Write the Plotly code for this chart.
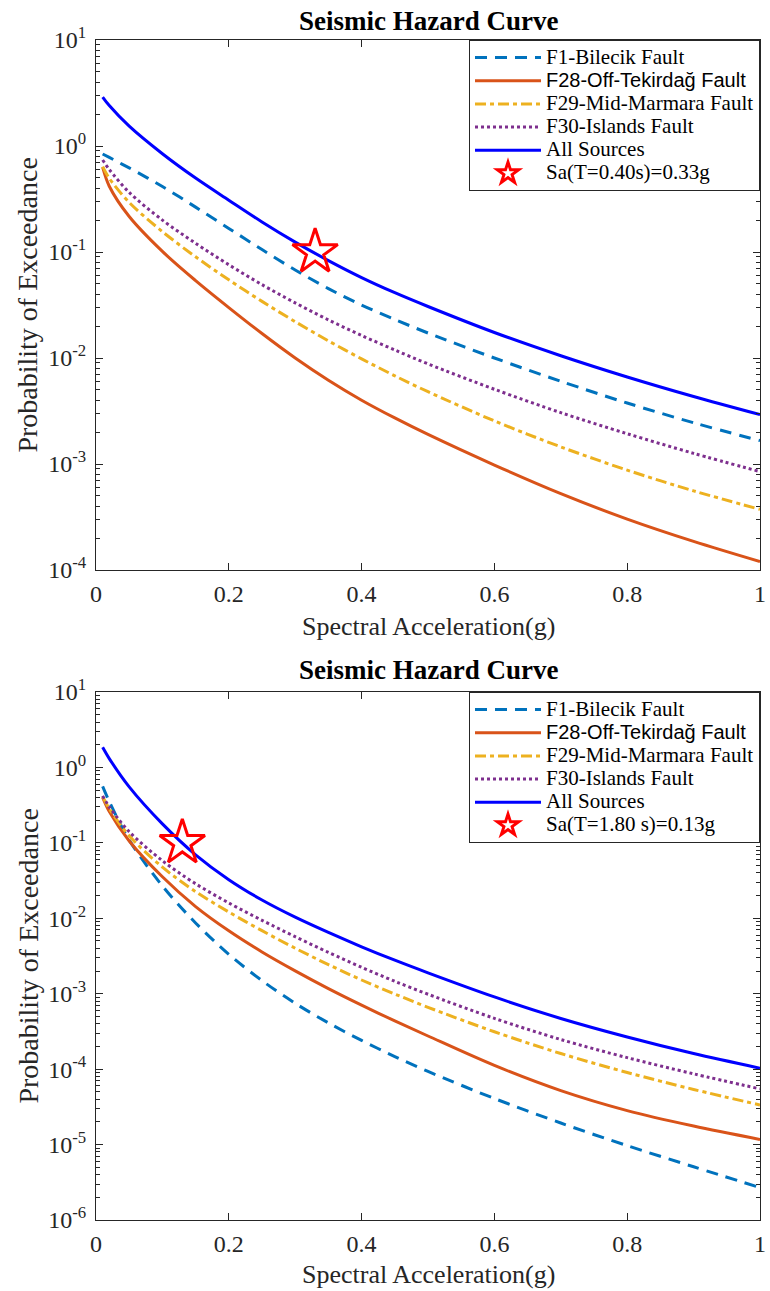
import plotly.graph_objects as go

# ---------------- data ----------------
sa = [0.01, 0.02, 0.05, 0.1, 0.15, 0.2, 0.25, 0.3, 0.35, 0.4, 0.45, 0.5, 0.6, 0.7, 0.8, 0.9, 1.0]

# Top panel: T = 0.40 s
f1_top = [0.841, 0.78, 0.621, 0.415, 0.265, 0.167, 0.1054, 0.0676, 0.0452, 0.0316, 0.0231, 0.0172, 0.0100, 0.00603, 0.00376, 0.00245, 0.00166]
f28_top = [0.631, 0.417, 0.216, 0.1012, 0.0537, 0.0299, 0.0170, 0.0100, 0.00617, 0.0040, 0.00272, 0.0019, 0.000977, 0.000525, 0.000302, 0.000186, 0.00012]
f29_top = [0.638, 0.495, 0.293, 0.1556, 0.0901, 0.0546, 0.0342, 0.0220, 0.0145, 0.00982, 0.00679, 0.00481, 0.00255, 0.00145, 0.000875, 0.000558, 0.000373]
f30_top = [0.738, 0.60, 0.365, 0.200, 0.1208, 0.0758, 0.0492, 0.0331, 0.0229, 0.0163, 0.0119, 0.0088, 0.00507, 0.00305, 0.00193, 0.00126, 0.000847]
all_top = [2.897, 2.41, 1.538, 0.845, 0.498, 0.308, 0.192, 0.124, 0.083, 0.0574, 0.0413, 0.0306, 0.0174, 0.0105, 0.00662, 0.00433, 0.00292]
star_top = (0.33, 0.1)

# Bottom panel: T = 1.80 s
f1_bot = [0.56, 0.353, 0.109, 0.0268, 0.00867, 0.00333, 0.00149, 0.000746, 0.00041, 0.00024, 0.000147, 0.0000934, 0.0000408, 0.0000193, 0.00000967, 0.00000508, 0.00000269]
f28_bot = [0.40, 0.26, 0.106, 0.0355, 0.01428, 0.00682, 0.00358, 0.00201, 0.00117, 0.000706, 0.000436, 0.000275, 0.000112, 0.0000519, 0.0000282, 0.0000176, 0.0000117]
f29_bot = [0.41, 0.284, 0.124, 0.0476, 0.02254, 0.0121, 0.00685, 0.00401, 0.00243, 0.00152, 0.00099, 0.000661, 0.000313, 0.000161, 0.0000903, 0.0000538, 0.0000335]
f30_bot = [0.42, 0.30, 0.1406, 0.0579, 0.0287, 0.01596, 0.0094, 0.0057, 0.00353, 0.00224, 0.00146, 0.000984, 0.000471, 0.000247, 0.000142, 0.0000867, 0.0000547]
all_bot = [1.85, 1.31, 0.552, 0.1786, 0.0695, 0.0325, 0.01746, 0.01034, 0.00649, 0.00419, 0.00278, 0.00189, 0.000906, 0.00047, 0.000267, 0.000161, 0.000103]
star_bot = (0.13, 0.1)

names = ["F1-Bilecik Fault", "F28-Off-Tekirdağ Fault", "F29-Mid-Marmara Fault", "F30-Islands Fault", "All Sources"]
star_labels = ["Sa(T=0.40s)=0.33g", "Sa(T=1.80 s)=0.13g"]
x_ticks = [0, 0.2, 0.4, 0.6, 0.8, 1]
x_ticktext = ["0", "0.2", "0.4", "0.6", "0.8", "1"]
title_text = "Seismic Hazard Curve"
xlabel = "Spectral Acceleration(g)"
ylabel = "Probability of Exceedance"

# ---------------- styling ----------------
SERIF = "Liberation Serif"
SANS = "Liberation Sans"
AX = "#262626"
colors = ["#0072BD", "#D95319", "#EDB120", "#7E2F8E", "#0000FF"]
dashes = ["12px,8px", "solid", "11px,4px,4px,4px", "3px,3px", "solid"]
LW = 3
LEG_TXT = 21


def leg_name(txt, family=SERIF, size=LEG_TXT):
    return '<span style="font-family:%s; font-size:%dpx">%s</span>' % (family, size, txt)


fig = go.Figure()

panels = [
    (f1_top, f28_top, f29_top, f30_top, all_top, star_top, star_labels[0], "x", "y", "legend"),
    (f1_bot, f28_bot, f29_bot, f30_bot, all_bot, star_bot, star_labels[1], "x2", "y2", "legend2"),
]

for (f1, f28, f29, f30, al, star, slabel, xa, ya, lg) in panels:
    for i, ys in enumerate([f1, f28, f29, f30, al]):
        nm = leg_name(names[i], SANS, 20) if i == 1 else leg_name(names[i])
        fig.add_trace(go.Scatter(
            x=sa, y=ys, mode="lines", name=nm,
            line=dict(color=colors[i], width=LW, dash=dashes[i], shape="spline", smoothing=0.9),
            xaxis=xa, yaxis=ya, legend=lg,
        ))
    fig.add_trace(go.Scatter(
        x=[star[0]], y=[star[1]], mode="markers", name=leg_name(slabel),
        marker=dict(symbol="star-open", size=34, color="#FF0000", line=dict(color="#FF0000", width=3)),
        xaxis=xa, yaxis=ya, legend=lg,
    ))

W, H = 770, 1291
ML, MR, MT, MB = 96, 4, 40, 71
ph = H - MT - MB


def py(px):
    return (H - MB - px) / ph


def px_x(px):
    return (px - ML) / (W - ML - MR)


top_dom = [py(570), 1.0]
bot_dom = [0.0, py(692)]


def minor_vals(lo, hi):
    v = []
    for d in range(lo, hi):
        for k in range(2, 10):
            v.append(k * 10 ** d)
    return v


def yaxis(lo, hi, dom, anchor):
    tv = [10 ** d for d in range(lo, hi + 1)]
    tt = ["10<sup>%d</sup>" % d for d in range(lo, hi + 1)]
    return dict(
        type="log", range=[lo, hi], domain=dom, anchor=anchor,
        tickmode="array", tickvals=tv, ticktext=tt,
        ticks="inside", ticklen=7, tickwidth=1, tickcolor=AX,
        minor=dict(tickmode="array", tickvals=minor_vals(lo, hi), ticks="inside", ticklen=4, tickwidth=1, tickcolor=AX, showgrid=False),
        showline=True, linecolor=AX, linewidth=1, mirror="allticks",
        showgrid=False, zeroline=False, ticklabelstandoff=4,
        tickfont=dict(family=SERIF, size=24, color=AX),
    )


def xaxis(dom_anchor):
    return dict(
        range=[0, 1], domain=[0, 1], anchor=dom_anchor,
        tickmode="array", tickvals=x_ticks, ticktext=x_ticktext,
        ticks="inside", ticklen=7, tickwidth=1, tickcolor=AX,
        showline=True, linecolor=AX, linewidth=1, mirror="allticks",
        showgrid=False, zeroline=False, ticklabeloverflow="allow", ticklabelstandoff=2,
        tickfont=dict(family=SERIF, size=24, color=AX),
    )


legend_style = dict(
    x=1.0, xanchor="right", yanchor="top",
    bgcolor="white", bordercolor=AX, borderwidth=1,
    font=dict(family=SERIF, size=15.5, color="black"),
    itemwidth=66, tracegroupgap=0,
)

annotations = []
for (ytitle_px, yaxis_center_px, xtitle_px) in [(21, 305, 626), (670, 956, 1274)]:
    annotations.append(dict(text="<b>" + title_text + "</b>", x=0.5, xref="paper", y=py(ytitle_px), yref="paper",
                            showarrow=False, xanchor="center", yanchor="middle",
                            font=dict(family=SERIF, size=27, color="black")))
    annotations.append(dict(text=ylabel, x=px_x(27), xref="paper", y=py(yaxis_center_px), yref="paper",
                            showarrow=False, xanchor="center", yanchor="middle", textangle=-90,
                            font=dict(family=SERIF, size=28, color=AX)))
    annotations.append(dict(text=xlabel, x=0.5, xref="paper", y=py(xtitle_px), yref="paper",
                            showarrow=False, xanchor="center", yanchor="middle",
                            font=dict(family=SERIF, size=26, color=AX)))

fig.update_layout(
    width=W, height=H,
    margin=dict(l=ML, r=MR, t=MT, b=MB, pad=0),
    paper_bgcolor="white", plot_bgcolor="white",
    font=dict(family=SERIF),
    xaxis=xaxis("y"), yaxis=yaxis(-4, 1, top_dom, "x"),
    xaxis2=xaxis("y2"), yaxis2=yaxis(-6, 1, bot_dom, "x2"),
    legend=dict(y=1.0, **legend_style),
    legend2=dict(y=py(692), **legend_style),
    annotations=annotations,
    showlegend=True,
)

fig.write_html(
    "out.html",
    config={"displayModeBar": False},
    post_script="document.body.style.margin='0px';document.body.style.padding='0px';document.body.style.overflow='hidden';",
)
